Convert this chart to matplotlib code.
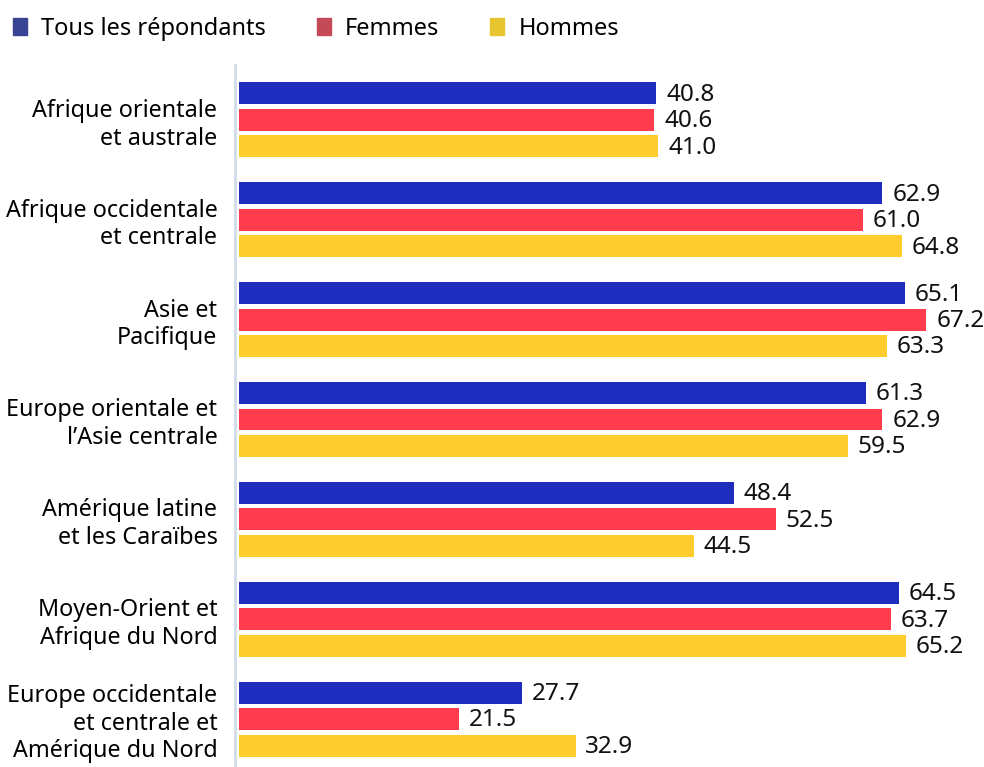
import matplotlib.pyplot as plt
import numpy as np
from matplotlib.patches import Patch

plt.rcParams['font.family'] = ['Noto Sans', 'DejaVu Sans']

regions = ['Afrique orientale\net australe', 'Afrique occidentale\net centrale',
           'Asie et\nPacifique', 'Europe orientale et\nl\u2019Asie centrale',
           'Amérique latine\net les Caraïbes', 'Moyen-Orient et\nAfrique du Nord',
           'Europe occidentale\net centrale et\nAmérique du Nord']
tous = [40.8, 62.9, 65.1, 61.3, 48.4, 64.5, 27.7]
femmes = [40.6, 61.0, 67.2, 62.9, 52.5, 63.7, 21.5]
hommes = [41.0, 64.8, 63.3, 59.5, 44.5, 65.2, 32.9]
series = ['Tous les répondants', 'Femmes', 'Hommes']
bar_colors = ['#1f2dbf', '#ff3b4d', '#ffcc2e']
legend_colors = ['#3a4494', '#c44a58', '#e6c52e']

W, H = 984, 767
fig = plt.figure(figsize=(W/100, H/100), dpi=100)
ax = fig.add_axes([239/W, 0, (W-239)/W, 702/H])

y = np.arange(len(regions))
off = 0.265
for k, (vals, c) in enumerate(zip([tous, femmes, hommes], bar_colors)):
    pos = y + (k-1)*off
    ax.barh(pos, vals, height=0.22, color=c)
    for p, v in zip(pos, vals):
        ax.annotate(f'{v:.1f}', (v, p), xytext=(7, -1), textcoords='offset points',
                    va='center', ha='left', fontsize=17.5, color='#111111')

ax.set_xlim(0, (W-239)/10.23)
ax.set_ylim(6.48, -0.55)
ax.set_yticks(y)
ax.set_yticklabels(regions, color='#111111', linespacing=1.15)
ax.tick_params(axis='y', length=0, pad=12.5, labelsize=16.8)
ax.set_xticks([])
for s in ['top', 'right', 'bottom']:
    ax.spines[s].set_visible(False)
ax.spines['left'].set_position(('outward', 3))
ax.spines['left'].set_color('#d0dce8')
ax.spines['left'].set_linewidth(2)

handles = [Patch(color=c) for c in legend_colors]
fig.legend(handles, series, loc='upper left', bbox_to_anchor=(-0.004, 1.0), ncol=3,
           frameon=False, fontsize=17, handlelength=0.6, handleheight=0.7,
           handletextpad=0.6, columnspacing=2.15, borderaxespad=0.3)

fig.savefig('out.png', dpi=100)
